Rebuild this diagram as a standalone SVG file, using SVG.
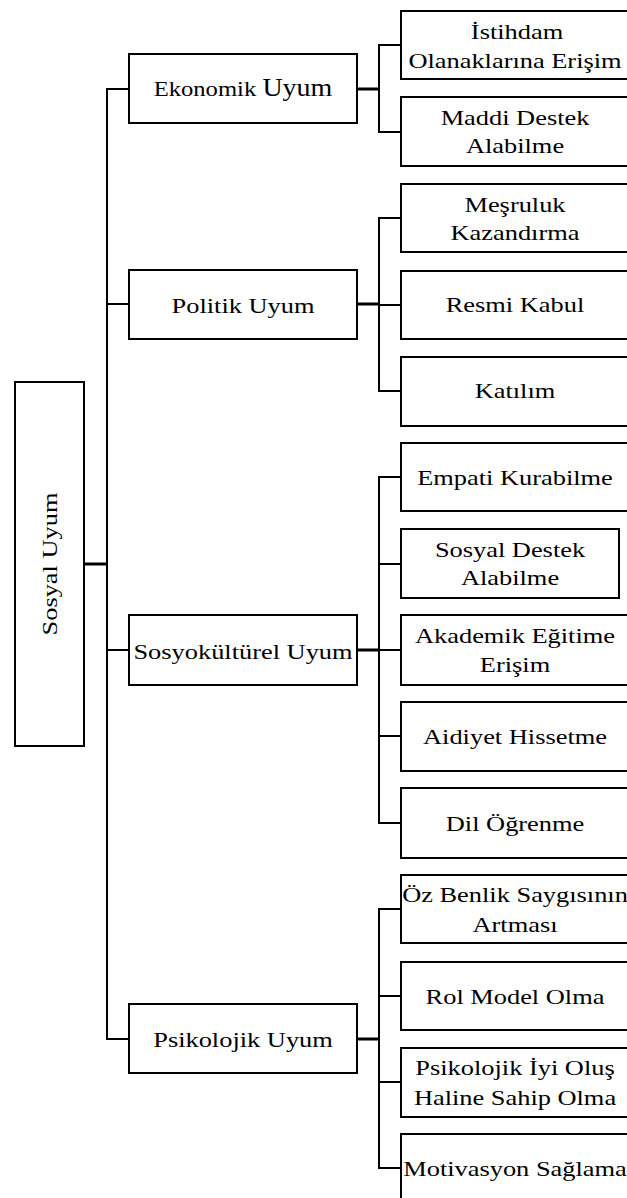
<svg xmlns="http://www.w3.org/2000/svg" width="627" height="1198" viewBox="0 0 627 1198">
<style>
.box{fill:#fff;stroke:#000;stroke-width:2}
.ln{fill:none;stroke:#000;stroke-width:2}
.lnb{fill:none;stroke:#000;stroke-width:3}
.t{font-family:"Liberation Serif","Times New Roman",serif;font-size:22px;fill:#000;text-anchor:middle}
</style>
<rect width="627" height="1198" fill="#fff"/>
<g id="connectors">
<path class="lnb" d="M84 564H107"/>
<path class="ln" d="M129 89H107V1039H129M107 304H129M107 650H129"/>
<path class="lnb" d="M357 89H379M357 304H379M357 650H379M357 1039H379"/>
<path class="ln" d="M401 45H379V132H401"/>
<path class="ln" d="M401 218H379V391H401M379 305H401"/>
<path class="ln" d="M401 477H379V823H401M379 564H401M379 650H401M379 736H401"/>
<path class="ln" d="M401 909H379V1168H401M379 996H401M379 1082H401"/>
</g>
<g id="root">
<rect class="box" x="15" y="382" width="69" height="364"/>
<text class="t" transform="matrix(0 -1.2 1 0 57 564)">Sosyal Uyum</text>
</g>
<g id="ekonomik">
<rect class="box" x="129" y="54" width="228" height="69"/>
<text class="t" transform="matrix(1.12 0 0 1 243 96)">Ekonomik <tspan font-size="25">Uyum</tspan></text>
</g>
<g id="politik">
<rect class="box" x="129" y="270" width="228" height="69"/>
<text class="t" transform="matrix(1.2 0 0 1 243 313)">Politik Uyum</text>
</g>
<g id="sosyokulturel">
<rect class="box" x="129" y="615" width="228" height="70"/>
<text class="t" transform="matrix(1.2 0 0 1 243 659)">Sosyokültürel Uyum</text>
</g>
<g id="psikolojik">
<rect class="box" x="129" y="1004" width="228" height="69"/>
<text class="t" transform="matrix(1.2 0 0 1 243 1047)">Psikolojik Uyum</text>
</g>
<g id="istihdam">
<rect class="box" x="401" y="11" width="240" height="68"/>
<text class="t" transform="matrix(1.2 0 0 1 517 39)">İstihdam</text>
<text class="t" transform="matrix(1.2 0 0 1 515 68)">Olanaklarına Erişim</text>
</g>
<g id="maddi">
<rect class="box" x="401" y="97" width="240" height="69"/>
<text class="t" transform="matrix(1.2 0 0 1 515 125)">Maddi Destek</text>
<text class="t" transform="matrix(1.2 0 0 1 515 153)">Alabilme</text>
</g>
<g id="mesruluk">
<rect class="box" x="401" y="184" width="240" height="68"/>
<text class="t" transform="matrix(1.2 0 0 1 515 212)">Meşruluk</text>
<text class="t" transform="matrix(1.2 0 0 1 515 240)">Kazandırma</text>
</g>
<g id="resmi">
<rect class="box" x="401" y="271" width="240" height="68"/>
<text class="t" transform="matrix(1.2 0 0 1 515 312)">Resmi Kabul</text>
</g>
<g id="katilim">
<rect class="box" x="401" y="357" width="240" height="69"/>
<text class="t" transform="matrix(1.2 0 0 1 515 398)">Katılım</text>
</g>
<g id="empati">
<rect class="box" x="401" y="443" width="240" height="68"/>
<text class="t" transform="matrix(1.2 0 0 1 515 485)">Empati Kurabilme</text>
</g>
<g id="sosyaldestek">
<rect class="box" x="401" y="529" width="218" height="69"/>
<text class="t" transform="matrix(1.2 0 0 1 510 557)">Sosyal Destek</text>
<text class="t" transform="matrix(1.2 0 0 1 510 585)">Alabilme</text>
</g>
<g id="akademik">
<rect class="box" x="401" y="615" width="240" height="70"/>
<text class="t" transform="matrix(1.2 0 0 1 515 643)">Akademik Eğitime</text>
<text class="t" transform="matrix(1.2 0 0 1 515 672)">Erişim</text>
</g>
<g id="aidiyet">
<rect class="box" x="401" y="702" width="240" height="69"/>
<text class="t" transform="matrix(1.2 0 0 1 515 744)">Aidiyet Hissetme</text>
</g>
<g id="dil">
<rect class="box" x="401" y="788" width="240" height="70"/>
<text class="t" transform="matrix(1.2 0 0 1 515 831)">Dil Öğrenme</text>
</g>
<g id="ozbenlik">
<rect class="box" x="401" y="875" width="240" height="68"/>
<text class="t" transform="matrix(1.2 0 0 1 515 902)">Öz Benlik Saygısının</text>
<text class="t" transform="matrix(1.2 0 0 1 515 932)">Artması</text>
</g>
<g id="rolmodel">
<rect class="box" x="401" y="962" width="240" height="68"/>
<text class="t" transform="matrix(1.2 0 0 1 515 1004)">Rol Model Olma</text>
</g>
<g id="iyiolus">
<rect class="box" x="401" y="1048" width="240" height="69"/>
<text class="t" transform="matrix(1.2 0 0 1 515 1075)">Psikolojik İyi Oluş</text>
<text class="t" transform="matrix(1.2 0 0 1 515 1105)">Haline Sahip Olma</text>
</g>
<g id="motivasyon">
<rect class="box" x="401" y="1134" width="240" height="80"/>
<text class="t" transform="matrix(1.2 0 0 1 515 1176)">Motivasyon Sağlama</text>
</g>
</svg>
